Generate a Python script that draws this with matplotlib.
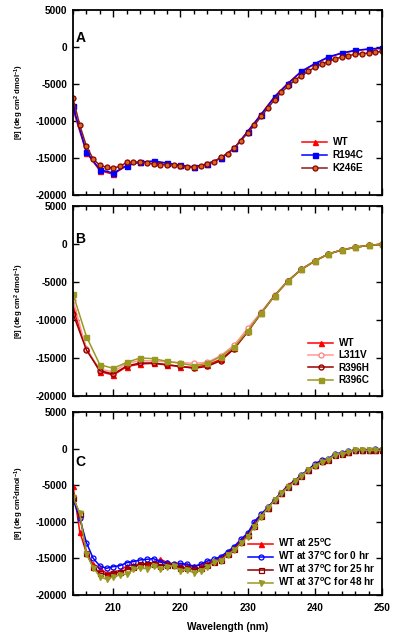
import numpy as np
import matplotlib
matplotlib.use("Agg")
import matplotlib.pyplot as plt
from matplotlib.ticker import MultipleLocator

plt.rcParams['font.family'] = ['Liberation Sans', 'DejaVu Sans']
plt.rcParams['font.weight'] = 'bold'
plt.rcParams['mathtext.default'] = 'regular'
plt.rcParams['axes.unicode_minus'] = False

# ---------------- Panel A ----------------
wl_a2 = list(range(204, 251, 2))
wl_a1 = list(range(204, 251, 1))
a_wt = [-8400, -14300, -16700, -17200, -16000, -15500, -15500, -15700, -16000, -16200,
        -15800, -15000, -13700, -11400, -9100, -6700, -4900, -3300, -2300, -1400,
        -850, -500, -300, -200]
a_r194c = [-8020, -14140, -16580, -17030, -16040, -15540, -15410, -15680, -15990, -16220,
           -15800, -15050, -13690, -11440, -9140, -6760, -4950, -3290, -2250, -1350,
           -810, -450, -270, -140]
a_k246e = [-6940, -10540, -13420, -15130, -15990, -16260, -16350, -16130, -15590, -15590,
           -15500, -15680, -15810, -15900, -15900, -15950, -16130, -16220, -16220, -16130,
           -15770, -15540, -14910, -14410, -13600, -12660, -11620, -10590, -9370, -8290,
           -7120, -6130, -5320, -4500, -3870, -3290, -2750, -2300, -1980, -1620,
           -1350, -1170, -990, -900, -810, -720, -590]

# ---------------- Panel B ----------------
wl_b = list(range(204, 251, 2))
b_tail = [-9120, -6800, -4870, -3330, -2240, -1320, -790, -440, -175, -40]
b_wt = [-8460, -13730, -16800, -17240, -16140, -15790, -15700, -15920, -16140, -16230,
        -15920, -15170, -13730, -11450] + b_tail
b_l311v = [-7370, -13860, -16490, -16800, -15700, -15350, -15390, -15480, -15610, -15700,
           -15570, -14690, -13290, -11100, -8950, -6750, -4850, -3320, -2230, -1310,
           -780, -430, -170, -40]
b_r396h = [-9170, -13950, -16670, -17110, -16050, -15660, -15660, -15880, -16100, -16360,
           -16100, -15350, -13770, -11580] + b_tail
b_r396c = [-6580, -12190, -15880, -16360, -15570, -15000, -15090, -15440, -15700, -16010,
           -15700, -14820, -13550, -11450] + b_tail

# ---------------- Panel C ----------------
wl_c = list(range(204, 251, 1))
c_0hr = [-6900, -9520, -12850, -14980, -16030, -16350, -16120, -15990, -15580, -15440,
         -15210, -15120, -15030, -15440, -15670, -15760, -15670, -15800, -16120, -15800,
         -15350, -15120, -14750, -14070, -13380, -12380, -11560, -9960, -8970, -8010,
         -7000, -6000, -5180, -4360, -3590, -2900, -2070, -1610, -1430, -700,
         -610, -380, -250, -160, -160, -20, -160]
c_25c = [-5080, -11330, -14290, -15800, -16350, -17030, -16800, -16660, -16030, -15890,
         -15800, -15710, -15540, -15130, -15540, -15760, -15890, -15850, -16030, -15890,
         -15670, -15300, -14950, -14250, -13550, -12600, -11750, -10250, -9100, -8100,
         -7050, -6050, -4950, -4400, -3650, -2950, -2200, -1700, -1480, -780,
         -660, -450, -250, -180, -200, -150, -200]
c_25hr = [-6700, -8900, -14300, -16200, -17000, -17200, -17000, -16900, -16500, -16200,
          -15800, -15800, -15700, -16000, -15900, -15900, -16300, -16300, -16500, -16300,
          -15950, -15450, -15200, -14400, -13700, -12800, -11850, -10550, -9200, -8100,
          -7050, -6050, -5250, -4450, -3680, -2960, -2300, -1750, -1500, -820,
          -700, -500, -250, -170, -240, -240, -240]
c_48hr = [-6640, -8830, -14390, -16260, -17490, -17860, -17490, -17270, -17130, -16490,
          -16350, -16400, -16030, -16400, -16120, -15990, -16670, -16580, -16950, -16670,
          -16120, -15530, -15300, -14530, -13850, -12930, -12020, -10650, -9280, -8140,
          -7090, -6090, -5270, -4490, -3710, -2990, -2350, -1800, -1520, -840,
          -710, -520, -250, -160, -250, -250, -250]

yticks = [5000, 0, -5000, -10000, -15000, -20000]
xticks_major = [210, 220, 230, 240, 250]
ylabel = r'[$\theta$] (deg cm$^{2}$ dmol$^{-1}$)'
ylabel_c = r'[$\theta$] (deg cm$^{2}$dmol$^{-1}$)'

W, H = 400, 634
fig = plt.figure(figsize=(W / 100, H / 100), dpi=100)
left = 73 / W
width = 309 / W
axA = fig.add_axes([left, 1 - 195 / H, width, 185 / H])
axB = fig.add_axes([left, 1 - 396 / H, width, 190 / H])
axC = fig.add_axes([left, 1 - 595 / H, width, 183 / H])

FS = 7.3
LFS = 7.2


def style(ax, show_x):
    ax.set_xlim(204, 250)
    ax.set_ylim(-20000, 5000)
    ax.set_yticks(yticks)
    ax.set_yticklabels([str(v) for v in yticks], fontsize=FS, fontweight='bold')
    ax.xaxis.set_major_locator(MultipleLocator(10))
    ax.xaxis.set_minor_locator(MultipleLocator(2))
    ax.tick_params(axis='both', which='both', direction='in', top=True, right=True,
                   width=1.0, colors='black')
    ax.tick_params(axis='x', which='major', length=5)
    ax.tick_params(axis='x', which='minor', length=3)
    ax.tick_params(axis='y', which='major', length=4, pad=4)
    for s in ax.spines.values():
        s.set_linewidth(1.3)
    if show_x:
        ax.set_xticks(xticks_major)
        ax.set_xticklabels([str(v) for v in xticks_major], fontsize=FS, fontweight='bold')
        ax.tick_params(axis='x', which='major', pad=6)
    else:
        ax.tick_params(axis='x', which='both', labelbottom=False)


def place_legend(ax, x_px, y_px, spacing):
    ax.legend(loc='upper left', bbox_to_anchor=(x_px / W, 1 - y_px / H),
              bbox_transform=fig.transFigure, frameon=False, borderpad=0,
              borderaxespad=0, prop={'size': LFS, 'weight': 'bold'},
              handlelength=2.5, handletextpad=0.55, labelspacing=spacing)


lw = 1.1
ms = 3.6

# Panel A
axA.plot(wl_a2, a_wt, color='#ff0000', marker='^', ms=ms, lw=lw, label='WT')
axA.plot(wl_a2, a_r194c, color='#0000ff', marker='s', ms=ms, lw=lw, label='R194C')
axA.plot(wl_a1, a_k246e, color='#8b1a1a', marker='o', ms=ms, lw=lw, mfc='#d2691e',
         mec='#8b0000', mew=0.9, label='K246E')
style(axA, False)
axA.set_ylabel(ylabel, fontsize=5.6, fontweight='bold', labelpad=7)
axA.text(204.4, 1200, 'A', fontsize=10, fontweight='bold', va='center')
place_legend(axA, 302, 137, 0.32)

# Panel B
axB.plot(wl_b, b_wt, color='#ff0000', marker='^', ms=ms, lw=lw, label='WT')
axB.plot(wl_b, b_l311v, color='#ff9999', marker='o', ms=ms, lw=lw, mfc='white',
         mec='#ff8080', mew=0.9, label='L311V')
axB.plot(wl_b, b_r396h, color='#990000', marker='o', ms=ms, lw=lw, mfc='none',
         mec='#990000', mew=1.0, label='R396H')
axB.plot(wl_b, b_r396c, color='#999922', marker='s', ms=ms, lw=lw, label='R396C')
style(axB, False)
axB.set_ylabel(ylabel, fontsize=5.6, fontweight='bold', labelpad=7)
axB.text(204.3, 700, 'B', fontsize=10, fontweight='bold', va='center')
place_legend(axB, 308, 338, 0.24)

# Panel C
axC.plot(wl_c, c_25c, color='#ff0000', marker='^', ms=ms, lw=lw,
         label=r'WT at 25$^{o}$C')
axC.plot(wl_c, c_0hr, color='#0000ff', marker='o', ms=ms, lw=lw, mfc='none',
         mec='#0000ff', mew=0.9, label=r'WT at 37$^{o}$C for 0 hr')
axC.plot(wl_c, c_25hr, color='#8b0000', marker='s', ms=ms, lw=lw, mfc='none',
         mec='#8b0000', mew=0.9, label=r'WT at 37$^{o}$C for 25 hr')
axC.plot(wl_c, c_48hr, color='#999922', marker='v', ms=ms, lw=lw,
         label=r'WT at 37$^{o}$C for 48 hr')
style(axC, True)
axC.set_ylabel(ylabel_c, fontsize=5.6, fontweight='bold', labelpad=7)
axC.set_xlabel('Wavelength (nm)', fontsize=7.3, fontweight='bold', labelpad=6)
axC.text(204.4, -1800, 'C', fontsize=10, fontweight='bold', va='center')
place_legend(axC, 248, 537, 0.05)

fig.savefig('out.png', dpi=100)
